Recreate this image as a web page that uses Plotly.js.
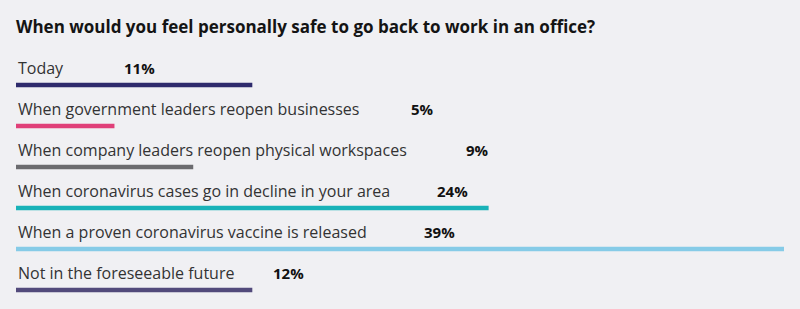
<!DOCTYPE html>
<html>
<head>
<meta charset="utf-8">
<script src="https://cdn.plot.ly/plotly-3.0.1.min.js"></script>
<style>html,body{margin:0;padding:0;background:#f0f0f3;}#chart{width:800px;height:309px;}</style>
</head>
<body>
<div id="chart"></div>
<script>
// Data
const categories = [
  "Today",
  "When government leaders reopen businesses",
  "When company leaders reopen physical workspaces",
  "When coronavirus cases go in decline in your area",
  "When a proven coronavirus vaccine is released",
  "Not in the foreseeable future"
];
// bar lengths as drawn in the source (the "Today" bar is drawn as long as the 12% one)
const barValues = [12, 5, 9, 24, 39, 12];
const pctLabels = ["11%", "5%", "9%", "24%", "39%", "12%"];
const colors = ["#2e2a6c", "#e04079", "#6b6b6f", "#19b2b8", "#86cbe7", "#524a7b"];

// layout positions (pixels from the left edge) of the percentage labels
const pctX = [122, 409, 464, 435, 422, 271];

const W = 800, H = 309, ML = 16, MR = 16;
const plotW = W - ML - MR;
const idx = categories.map((_, i) => i);

const annotations = [];
categories.forEach((c, i) => {
  annotations.push({
    text: c, x: 0, y: i, xref: "x", yref: "y", xanchor: "left", yanchor: "middle",
    yshift: 17, showarrow: false,
    font: {family: "Open Sans, sans-serif", size: 16, color: "#333333"}
  });
  annotations.push({
    text: "<b>" + pctLabels[i] + "</b>", x: (pctX[i] - ML) / plotW, xref: "paper", y: i, yref: "y",
    xanchor: "left", yanchor: "middle", yshift: 17.5, showarrow: false,
    font: {family: "Open Sans, sans-serif", size: 15, color: "#111111"}
  });
});

const data = [{
  type: "bar", orientation: "h", x: barValues, y: idx,
  marker: {color: colors}, width: 0.11, hoverinfo: "skip"
}];

const layout = {
  width: W, height: H,
  paper_bgcolor: "#f0f0f3", plot_bgcolor: "#f0f0f3",
  margin: {l: ML, r: MR, t: 44, b: 10},
  showlegend: false,
  title: {
    text: "<b>When would you feel personally safe to go back to work in an office?</b>",
    x: 16 / W, xref: "container", xanchor: "left",
    y: 1 - 27 / H, yref: "container", yanchor: "middle",
    font: {family: "Open Sans, sans-serif", size: 17, color: "#141414"}
  },
  xaxis: {range: [0, 39], visible: false, fixedrange: true},
  yaxis: {range: [5 + 9 / 41, -1], visible: false, fixedrange: true},
  annotations: annotations
};

Plotly.newPlot("chart", data, layout, {displayModeBar: false, staticPlot: true});
</script>
</body>
</html>
